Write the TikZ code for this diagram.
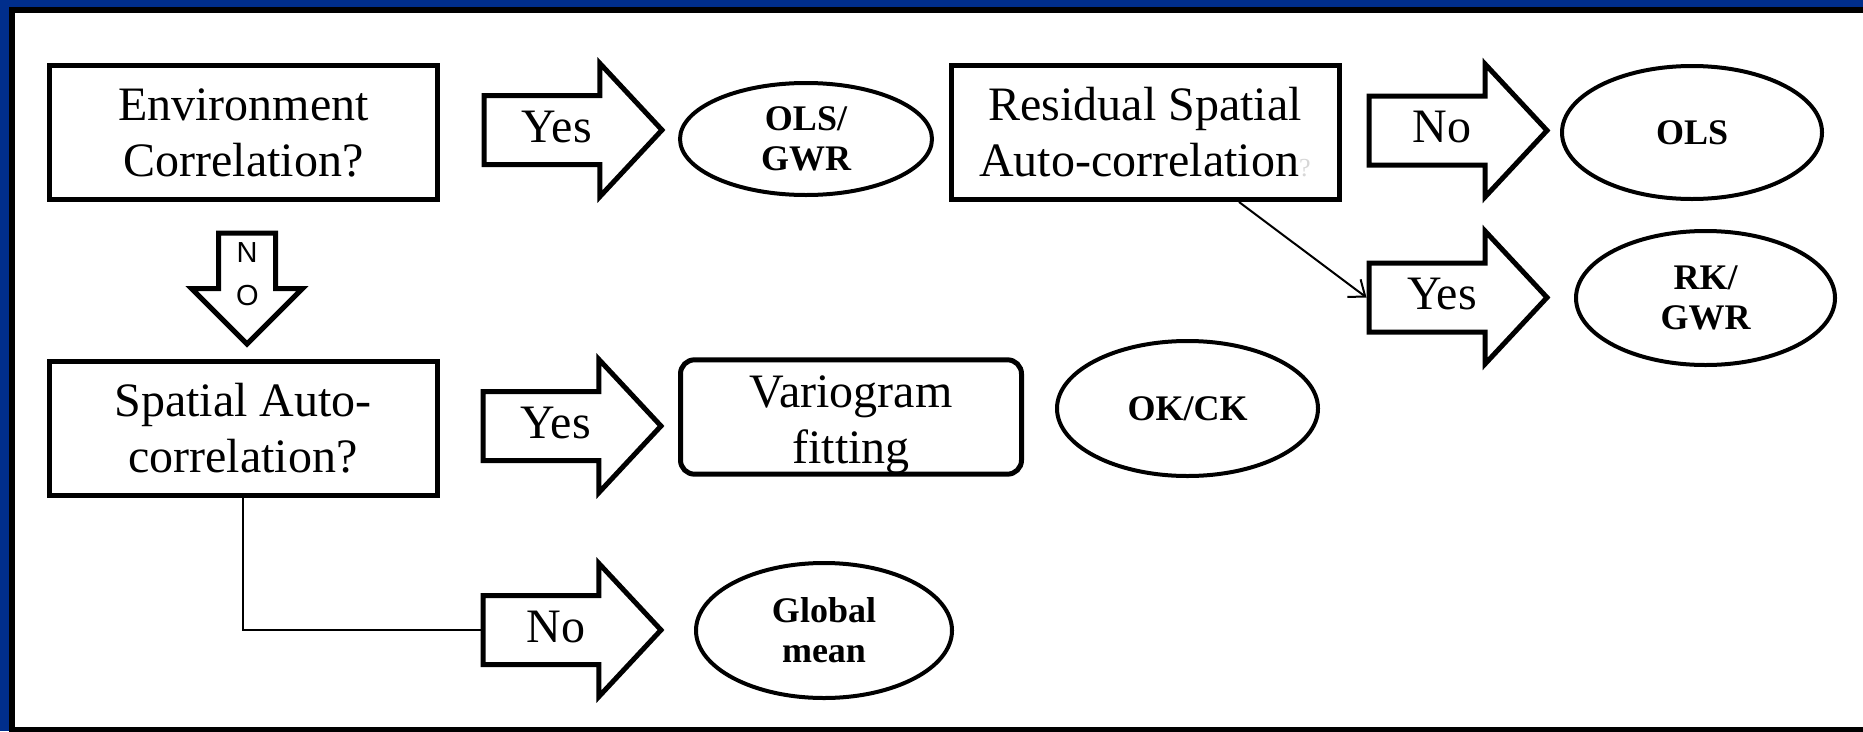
\documentclass[tikz,border=0pt]{standalone}
\usepackage{fontspec}
\setmainfont{Liberation Serif}
\newfontfamily\arrowsans{Liberation Sans}
\usepackage{tikz}
\usetikzlibrary{shapes, arrows.meta, positioning}
\definecolor{slideblue}{RGB}{0,46,140}
\definecolor{faintgray}{RGB}{215,215,215}
\tikzstyle{question} = [draw, line width=5pt, rectangle, minimum width=388pt, minimum height=134pt, align=center, inner sep=0pt, font=\fontsize{48}{56}\selectfont]
\tikzstyle{outcome} = [draw, line width=4pt, ellipse, align=center, inner sep=0pt, font=\fontsize{36}{40}\selectfont\bfseries]
\tikzstyle{fatarrow} = [draw, line width=5pt, single arrow, single arrow head extend=32pt, single arrow tip angle=94, minimum height=178pt, text height=36pt, text depth=12pt, inner xsep=10pt, inner ysep=8pt, font=\fontsize{48}{56}\selectfont]
\tikzstyle{downarrow} = [draw, line width=5pt, single arrow, shape border rotate=270, single arrow head extend=27pt, minimum height=111pt, text width=22pt, align=center, inner xsep=15pt, inner ysep=4pt, font=\arrowsans\fontsize{29}{43}\selectfont]
\tikzstyle{thinline} = [line width=2pt]

\begin{document}
\begin{tikzpicture}[x=1pt, y=-1pt]
	\clip (0,0) rectangle (1863,731);
	\fill[slideblue] (0,0) rectangle (1863,731);
	\draw[line width=6pt, fill=white] (11.5,10) rectangle (1890,730);
	\node[question] (env) at (243.5,132.5) {Environment\\Correlation?};
	\node[question] (resid) at (1145,132.5) {Residual Spatial\\Auto-correlation{\color{faintgray}\fontsize{26}{26}\selectfont ?}};
	\node[question] (spat) at (243,428) {Spatial Auto-\\correlation?};
	\node[question, rounded corners=14pt, minimum width=341pt, minimum height=111pt] (vario) at (851,417) {\rule{0pt}{48pt}Variogram\\fitting};
	\node[fatarrow, anchor=tail] (yes1) at (481.5,130) {Yes};
	\node[fatarrow, anchor=tail] (no1) at (1366.5,130.5) {No};
	\node[fatarrow, anchor=tail] (yes2) at (1366.5,297.5) {Yes};
	\node[fatarrow, anchor=tail] (yes3) at (480.5,426) {Yes};
	\node[fatarrow, anchor=tail] (no3) at (480.5,630) {No};
	\node[downarrow, anchor=tail] (no0) at (247,230.5) {N\\O};
	\node[outcome, minimum width=252pt, minimum height=112pt] (olsgwr) at (806,139) {OLS/\\GWR};
	\node[outcome, minimum width=260pt, minimum height=133pt] (ols) at (1692,132.5) {OLS};
	\node[outcome, minimum width=259pt, minimum height=134pt] (rkgwr) at (1705.5,298) {RK/\\GWR};
	\node[outcome, minimum width=261pt, minimum height=135pt] (okck) at (1187.5,408.5) {OK/CK};
	\node[outcome, minimum width=256pt, minimum height=135pt] (glob) at (824,630.5) {Global\\mean};
	\draw[thinline, -{Straight Barb[length=14pt,width=22pt]}] ([xshift=94pt]resid.south) -- (yes2.tail);
	\draw[thinline] (spat.south) |- (no3.tail);
\end{tikzpicture}
\end{document}
